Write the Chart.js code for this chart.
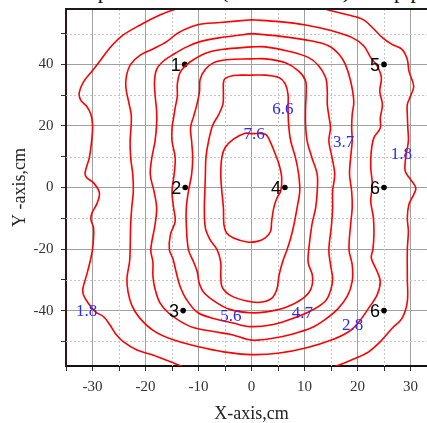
<!DOCTYPE html>
<html lang="en">
<head>
    <meta charset="UTF-8">
    <title>Isolines</title>
    <style>
        html, body {
            margin: 0;
            background: #fff;
            overflow: hidden;
        }
        #title {
            position: absolute;
            left: 59px;
            top: -20px;
            font: 22px/22px "Liberation Serif", serif;
            color: #111;
            white-space: nowrap;
        }
        canvas {
            position: absolute;
            left: 0;
            top: 0;
        }
    </style>
</head>
<body>
    <div id="title">Temp distribution (relative units) at top plane</div>
    <canvas id="isoChart" width="450" height="430"></canvas>

    <script src="https://cdn.jsdelivr.net/npm/chart.js"></script>
    <script>
        // axis ticks
        const xTicks = [-35, -30, -25, -20, -15, -10, -5, 0, 5, 10, 15, 20, 25, 30, 35];
        const yTicks = [-50, -40, -30, -20, -10, 0, 10, 20, 30, 40, 50];
        const xMinor = [-25, -15, -5, 5, 15, 25];
        const yMinor = [-50, -30, -10, 10, 30, 50];

        // isolines, [x, y] in cm
        const iso18 = [[0,61],[10,60],[14,57.9],[17.7,56.3],[20.9,54.7],[22.8,52],[24.7,48.7],[26.5,46.5],[28.4,44.9],[29.4,41.6],[29.7,37.8],[30.6,32.9],[30,29.7],[29.4,27],[29.4,23.7],[29.5,19.3],[29.6,15.1],[29.1,9.7],[29,5.3],[30,2.6],[31,-0.1],[30.6,-2.3],[29.7,-5.5],[29.4,-9.9],[29.6,-14.2],[29.4,-20.2],[29.4,-29.5],[29.4,-37.1],[28.4,-42.5],[26.5,-45.8],[24.3,-50.1],[22.1,-53.4],[19.6,-55.5],[16.5,-57.7],[12,-60],[0,-61],[-9,-60],[-12.8,-58.3],[-15.3,-56.6],[-18.5,-54.5],[-21.6,-52.8],[-24.2,-50.1],[-25.7,-47.4],[-26.7,-44.7],[-27.9,-42],[-29.5,-40.3],[-30.8,-37.6],[-31.7,-34.9],[-31.8,-32.7],[-31.1,-28.4],[-30.3,-22.9],[-29.9,-18.6],[-29.8,-13.2],[-30.3,-10.4],[-30.1,-8.3],[-29.1,-5],[-28.7,-1.7],[-29.8,1.5],[-31.1,3.2],[-31.4,4.8],[-30.6,9.7],[-30.1,16.2],[-30,20.5],[-30.3,23.7],[-31.1,26.4],[-32.2,28.3],[-32.5,30.8],[-31.7,34.3],[-30.1,37.8],[-28.6,41.1],[-26.7,45.4],[-24.5,49.2],[-21,52.8],[-17.2,56.1],[-14.4,57.9],[-10,60],[0,61]];
        const iso28 = [[0,54.5],[5.2,53.9],[10.2,52.8],[15.2,50.9],[19,48.7],[21.2,46],[22.5,42.2],[23.7,39.5],[24.5,35.7],[24.2,31.3],[24.7,27],[24.3,22.6],[24.3,19.3],[23.1,16.2],[22.6,11.8],[22.5,6.4],[22.8,1],[22.5,-4.5],[23,-9.9],[23.1,-15.3],[22.9,-20.2],[22.6,-22.9],[23.7,-27.3],[24.3,-30.5],[23.7,-34.9],[22.1,-39.2],[20.3,-43.6],[18.4,-46.8],[15.2,-49.5],[10.4,-52.1],[5.3,-53.8],[0,-54.3],[-5.3,-53.4],[-10.4,-51.6],[-14.8,-49.5],[-18.5,-46.5],[-21.2,-42.2],[-22.6,-38.2],[-23.3,-33.8],[-23.5,-29.5],[-23,-24],[-22.9,-20.2],[-22.8,-12.1],[-22.6,-6.6],[-22.3,-1.2],[-22.4,4.2],[-22.8,9.7],[-22.9,15.1],[-22.7,20.5],[-22.7,23.7],[-23.2,28],[-23.7,32.4],[-23.6,36.2],[-22.8,40],[-21,43],[-18.5,45.1],[-16,47.4],[-13.8,50.3],[-10.3,52.8],[-5.9,53.6],[0,54.5]];
        const iso37 = [[0,50],[5.2,49.2],[11.4,47.6],[14.6,46],[16.5,43.3],[17.7,40],[18.7,34.6],[19.3,28],[19,23.7],[18.9,19.3],[19,15.1],[18.7,9.7],[18.5,4.2],[18.9,-1.2],[19,-6.6],[18.7,-12.1],[18.4,-20.2],[19,-25.1],[19,-30.5],[18.1,-35.2],[16.2,-39.6],[13.8,-43],[11.3,-45.6],[8,-47.5],[4,-49],[0,-49.6],[-3.5,-47.9],[-7.2,-46.8],[-11,-45.5],[-13.5,-43.4],[-15.7,-40.7],[-17.3,-37.4],[-18.2,-33],[-18.6,-28.7],[-18.6,-24.3],[-19,-20.2],[-18.2,-12.1],[-17.9,-6.6],[-18.4,-1.2],[-19.1,4.2],[-18.8,9.7],[-18.2,15.1],[-17.9,20.5],[-17.9,24.8],[-18.2,30.2],[-18.3,34.6],[-17.9,38.4],[-16.6,41.1],[-14.7,43.3],[-12.2,45.7],[-9.7,47.4],[-5.9,48.7],[0,50]];
        const iso47 = [[0,45.7],[2.6,45.7],[7,44.3],[10.8,42.2],[12.7,39.5],[14,35.7],[14.3,31.3],[14.3,27],[14.6,23.2],[14.9,19.3],[14.6,15.1],[15.2,9.7],[15.7,4.2],[15.3,-1.2],[15.3,-6.6],[15.1,-12.1],[14.6,-20.2],[14.9,-25],[15.3,-29.5],[15,-33],[14,-36.8],[11.5,-39.8],[7.9,-42.5],[4.1,-44.5],[-0.3,-45.2],[-3.5,-44],[-6.6,-42.8],[-10.1,-40.7],[-12.3,-36.3],[-13.5,-32],[-14.2,-27.6],[-14.8,-23.3],[-15.5,-20.2],[-15.3,-15.3],[-14.4,-11],[-14.7,-6.6],[-15,-1.2],[-14.6,4.2],[-14.4,9.7],[-15,15.1],[-15,19.3],[-14.7,22.6],[-14.4,25.9],[-14,29.7],[-14,33.5],[-13.5,37.3],[-12.5,39.5],[-10.9,41.6],[-8.4,43.8],[-5.3,44.9],[0,45.7]];
        const iso56 = [[0,41.8],[2.6,41.8],[6.4,40.5],[8.9,37.8],[10.2,34.6],[10.3,30.2],[10.2,25.9],[10.2,20.5],[10.5,15.1],[11.4,9.7],[12.4,4.2],[12.4,-1.2],[12.1,-6.6],[11.4,-12.1],[10.8,-20.2],[10.7,-24.5],[11.5,-28.7],[11.2,-33],[9.5,-36.3],[6.4,-39],[2.8,-40.4],[-0.3,-40.7],[-4.1,-39.6],[-6.6,-37.4],[-9,-34.1],[-9.9,-30.9],[-10.2,-27.6],[-10.9,-24.3],[-11.9,-20.2],[-12.3,-12.1],[-12.3,-6.6],[-11.9,-1.2],[-11.3,4.2],[-11.1,9.7],[-11.3,15.1],[-11.5,19.5],[-10.9,23.2],[-10.3,27],[-9.8,31.3],[-9.7,35.1],[-8.7,38.4],[-7.2,40.5],[-4.7,41.5],[0,41.8]];
        const iso66 = [[0,36.5],[2.6,36.5],[5.2,35.7],[6.4,33.5],[6.9,30.2],[6.9,25.9],[7,20.5],[7.4,15.1],[8.3,9.7],[8.9,4.2],[9.1,-1.2],[8.6,-6.6],[8,-12.1],[7.4,-16.4],[6.7,-20.2],[5.9,-24],[5.2,-28.5],[4.8,-33],[3.8,-36],[1.6,-37.3],[-0.9,-36.9],[-3.8,-35.2],[-5.5,-32.5],[-5.8,-28.7],[-5.8,-24.3],[-6.5,-20.2],[-7.8,-17],[-8.7,-13.2],[-8.9,-6.6],[-8.8,-1.2],[-8.7,4.2],[-8.6,9.7],[-8.1,15.1],[-7.3,20.3],[-6.2,23.7],[-5.4,27],[-5.3,30.2],[-5.3,34],[-5,35.4],[-3.4,36.4],[0,36.5]];
        const iso76 = [[0,17.5],[2.6,17.3],[3.6,14.6],[4.5,10.8],[5.2,7.5],[5.7,3.2],[5.5,-1.2],[4.8,-3.4],[4.2,-6.6],[3.8,-11],[3.6,-14.2],[2.6,-16.4],[1.1,-17.5],[-0.8,-17.7],[-3.4,-16.4],[-4.7,-14.8],[-5.2,-12.1],[-5.3,-6.6],[-5.6,-1.2],[-5.8,4.2],[-5.6,9.7],[-5,12.9],[-3.4,15.7],[-1.2,17.6],[0,17.5]];
        const isolines = [iso18, iso28, iso37, iso47, iso56, iso66, iso76];

        // level labels on the isolines
        const levelText = ['6.6', '7.6', '3.7', '1.8', '1.8', '5.6', '4.7', '2.8'];
        const levelX = [5.9, 0.5, 17.4, 28.3, -31.1, -3.9, 9.6, 19.1];
        const levelY = [25.8, 17.4, 15, 11.2, -39.9, -41.7, -40.6, -44.4];

        // measurement points
        const sensorNames = ['1', '2', '3', '4', '5', '6', '6'];
        const sensorX = [-12.6, -12.5, -12.9, 6.3, 25, 25, 25];
        const sensorY = [40, 0, -40, 0, 40, 0, -40];

        Chart.defaults.font.family = '"Liberation Serif", serif';

        const extras = {
            id: 'extras',
            beforeDatasetsDraw(chart) {
                // dashed minor grid
                const {ctx, chartArea: a, scales: {x, y}} = chart;
                ctx.save();
                ctx.strokeStyle = '#c6c6c6';
                ctx.lineWidth = 1;
                ctx.setLineDash([2, 2]);
                ctx.beginPath();
                xMinor.forEach(v => {
                    const px = Math.round(x.getPixelForValue(v)) + 0.5;
                    ctx.moveTo(px, a.top);
                    ctx.lineTo(px, a.bottom);
                });
                yMinor.forEach(v => {
                    const py = Math.round(y.getPixelForValue(v)) + 0.5;
                    ctx.moveTo(a.left, py);
                    ctx.lineTo(a.right, py);
                });
                ctx.stroke();
                ctx.restore();
            },
            afterDatasetsDraw(chart) {
                const {ctx, chartArea: a, scales: {x, y}} = chart;
                ctx.save();
                // top and right frame
                ctx.strokeStyle = '#1a1a1a';
                ctx.lineWidth = 2;
                ctx.beginPath();
                ctx.moveTo(a.left, a.top);
                ctx.lineTo(a.right, a.top);
                ctx.lineTo(a.right, a.bottom);
                ctx.stroke();

                ctx.fillStyle = '#000';
                ctx.font = '18px "Liberation Sans", sans-serif';
                ctx.textAlign = 'right';
                sensorNames.forEach((n, i) => {
                    ctx.fillText(n, x.getPixelForValue(sensorX[i]) - 4, y.getPixelForValue(sensorY[i]) + 6.5);
                });

                ctx.fillStyle = '#2a2aff';
                ctx.font = '17px "Liberation Serif", serif';
                ctx.textAlign = 'center';
                levelText.forEach((t, i) => {
                    ctx.fillText(t, x.getPixelForValue(levelX[i]), y.getPixelForValue(levelY[i]) + 5.5);
                });
                ctx.restore();
            }
        };

        const datasets = isolines.map(line => ({
            data: line.map(p => ({x: p[0], y: p[1]})),
            showLine: true,
            fill: false,
            borderColor: '#ff0000',
            borderWidth: 1.6,
            pointRadius: 0,
            tension: 0.35
        }));
        datasets.push({
            data: sensorX.map((v, i) => ({x: v, y: sensorY[i]})),
            pointRadius: 2.8,
            pointBorderWidth: 0,
            pointBackgroundColor: '#000'
        });

        new Chart(document.getElementById('isoChart'), {
            type: 'scatter',
            data: {datasets},
            options: {
                responsive: false,
                animation: false,
                devicePixelRatio: 1,
                layout: {padding: {top: 9, right: 13, bottom: 0, left: 0}},
                plugins: {
                    legend: {display: false},
                    tooltip: {enabled: false}
                },
                scales: {
                    x: {
                        type: 'linear',
                        min: -35,
                        max: 35,
                        afterBuildTicks: s => { s.ticks = xTicks.map(v => ({value: v})); },
                        afterFit: s => { s.height = 64; s.paddingLeft = 0; s.paddingRight = 0; },
                        ticks: {
                            autoSkip: false,
                            maxRotation: 0,
                            padding: 7,
                            color: '#333',
                            font: {size: 15},
                            callback: v => (v % 10 === 0 ? v : '')
                        },
                        grid: {
                            color: c => (c.tick && c.tick.value % 10 === 0 ? '#a0a0a0' : 'rgba(0,0,0,0)'),
                            tickColor: '#333',
                            tickLength: 5
                        },
                        border: {color: '#111', width: 2},
                        title: {
                            display: true,
                            text: 'X-axis,cm',
                            color: '#222',
                            font: {size: 18},
                            padding: {top: 0, bottom: 5}
                        }
                    },
                    y: {
                        type: 'linear',
                        min: -58,
                        max: 58,
                        afterBuildTicks: s => { s.ticks = yTicks.map(v => ({value: v})); },
                        afterFit: s => { s.width = 66; s.paddingTop = 0; s.paddingBottom = 0; },
                        ticks: {
                            autoSkip: false,
                            padding: 7.5,
                            color: '#333',
                            font: {size: 15},
                            callback: v => (v % 20 === 0 ? v : '')
                        },
                        grid: {
                            color: c => (c.tick && c.tick.value % 20 === 0 ? '#a0a0a0' : 'rgba(0,0,0,0)'),
                            tickColor: '#333',
                            tickLength: 5
                        },
                        border: {color: '#3a1414', width: 2},
                        title: {
                            display: true,
                            text: 'Y -axis,cm',
                            color: '#222',
                            font: {size: 18},
                            padding: {top: 9.5, bottom: 0}
                        }
                    }
                }
            },
            plugins: [extras]
        });
    </script>
</body>
</html>
